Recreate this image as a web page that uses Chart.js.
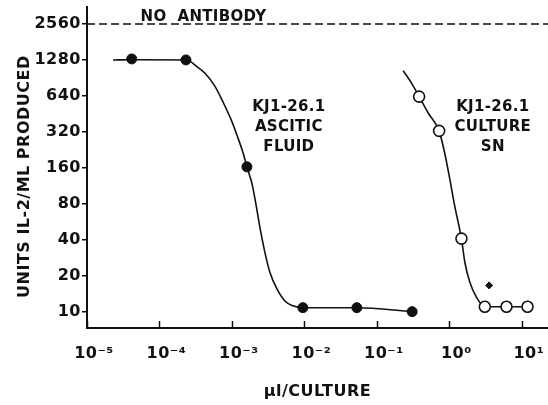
<!DOCTYPE html>
<html>
<head>
<meta charset="utf-8">
<script src="https://cdn.jsdelivr.net/npm/chart.js@4"></script>
<style>
  body{margin:0;background:#fff;}
  #wrap{width:548px;height:405px;position:relative;}
</style>
</head>
<body>
<div id="wrap"><canvas id="ilChart"></canvas></div>
<script>
// tick values and labels
const xTickVals=[1e-5,1e-4,1e-3,1e-2,1e-1,1,10];
const xTickLabels=['10\u207B\u2075','10\u207B\u2074','10\u207B\u00B3','10\u207B\u00B2','10\u207B\u00B9','10\u2070','10\u00B9'];
const yTickVals=[10,20,40,80,160,320,640,1280,2560];

// KJ1-26.1 ascitic fluid (filled dots) and its hand drawn curve
const asciticX=[4.14e-5,2.32e-4,1.61e-3,9.53e-3,0.053,0.307];
const asciticY=[1305,1280,163,10.8,10.8,10.0];
const asciticCurveX=[2.29e-5,4.14e-5,2.32e-4,2.7e-4,3.09e-4,4.25e-4,5.84e-4,7.52e-4,1.0e-3,1.21e-3,1.42e-3,1.61e-3,1.89e-3,2.14e-3,2.43e-3,2.85e-3,3.34e-3,4.18e-3,5.38e-3,6.93e-3,9.53e-3,0.053,0.307];
const asciticCurveY=[1280,1285,1280,1240,1160,990,770,570,390,285,215,163,118,80,51,31.4,21.4,15.5,12.3,11.2,10.8,10.8,10.0];

// KJ1-26.1 culture SN (open circles) and its hand drawn curve
const cultureX=[0.383,0.723,1.47,3.09,6.15,12.0];
const cultureY=[631,326,40.9,11.0,11.0,11.0];
const cultureCurveX=[0.231,0.301,0.383,0.511,0.723,0.867,1.02,1.19,1.47,1.64,1.92,2.37,3.09,6.15,12.0];
const cultureCurveY=[1040,818,631,460,326,210,127,76,40.9,25.8,17.6,13.2,11.0,11.0,11.0];

// stray small point
const strayX=[3.54];
const strayY=[16.6];

// no antibody level
const noAbLevel=2560;
const xMin=1e-5, xMax=23, yMin=7.3, yMax=3550;

const pts=(xs,ys)=>xs.map((x,i)=>({x:x,y:ys[i]}));
const ink='#111';
const FONT='"DejaVu Sans", sans-serif';

// text notes, anchored to data values
const notes=[
  {lines:['NO  ANTIBODY'],x:4.05e-4,y:noAbLevel,dy:-3,base:'alphabetic'},
  {lines:['KJ1-26.1','ASCITIC','FLUID'],x:6.1e-3,y:513,dy:0,base:'middle'},
  {lines:['KJ1-26.1','CULTURE','SN'],x:3.98,y:513,dy:0,base:'middle'}
];

const decor={
  id:'decor',
  beforeDraw(chart){ chart.ctx.letterSpacing='0.5px'; },
  afterDraw(chart){
    const c=chart.ctx, xs=chart.scales.x, ys=chart.scales.y;
    c.save();
    // inward x tick marks
    c.strokeStyle=ink; c.lineWidth=1.5;
    xTickVals.forEach(v=>{
      const px=Math.round(xs.getPixelForValue(v))+0.5;
      c.beginPath(); c.moveTo(px,chart.chartArea.bottom); c.lineTo(px,chart.chartArea.bottom-7); c.stroke();
    });
    // notes
    c.fillStyle=ink; c.font='bold 15px '+FONT; c.textAlign='center';
    c.letterSpacing='0.3px';
    notes.forEach(n=>{
      c.textBaseline=n.base;
      const px=xs.getPixelForValue(n.x), py=ys.getPixelForValue(n.y)+n.dy;
      n.lines.forEach((t,i)=>c.fillText(t,px,py+i*20));
    });
    c.restore();
  }
};

const data={
  datasets:[
    {data:pts(asciticX,asciticY),showLine:false,pointRadius:5,pointBackgroundColor:ink,pointBorderColor:ink,pointBorderWidth:1},
    {data:pts(cultureX,cultureY),showLine:false,pointRadius:5.5,pointBackgroundColor:'#fff',pointBorderColor:ink,pointBorderWidth:1.6},
    {data:pts(strayX,strayY),showLine:false,pointStyle:'rectRot',pointRadius:3.5,pointBackgroundColor:ink,pointBorderColor:ink},
    {data:pts(asciticCurveX,asciticCurveY),borderColor:ink,borderWidth:1.6,pointRadius:0,cubicInterpolationMode:'monotone'},
    {data:pts(cultureCurveX,cultureCurveY),borderColor:ink,borderWidth:1.6,pointRadius:0,cubicInterpolationMode:'monotone'},
    {data:[{x:xMin,y:noAbLevel},{x:xMax,y:noAbLevel}],borderColor:ink,borderWidth:1.4,borderDash:[8,4],pointRadius:0}
  ]
};

const tickFont={family:FONT,size:16,weight:'bold'};
const titleFont={family:FONT,size:16,weight:'bold'};

const config={
  type:'line',
  data:data,
  plugins:[decor],
  options:{
    responsive:true,
    maintainAspectRatio:false,
    animation:false,
    layout:{autoPadding:false,padding:{top:7,right:0,bottom:0,left:0}},
    plugins:{legend:{display:false},tooltip:{enabled:false}},
    scales:{
      x:{
        type:'logarithmic',min:xMin,max:xMax,
        afterBuildTicks:s=>{s.ticks=xTickVals.map(v=>({value:v}));},
        afterFit:s=>{s.height=77;s.paddingLeft=0;s.paddingRight=0;},
        grid:{display:true,drawOnChartArea:false,drawTicks:false},
        border:{display:true,color:ink,width:2},
        ticks:{color:ink,font:tickFont,padding:16,labelOffset:7,maxRotation:0,autoSkip:false,
          callback:(v,i)=>xTickLabels[i]},
        title:{display:true,text:'\u03BCl/CULTURE',color:ink,font:titleFont,padding:{top:0,bottom:4}}
      },
      y:{
        type:'logarithmic',min:yMin,max:yMax,
        afterBuildTicks:s=>{s.ticks=yTickVals.map(v=>({value:v}));},
        afterFit:s=>{s.width=87;s.paddingTop=0;s.paddingBottom=0;},
        grid:{display:true,drawOnChartArea:false,drawTicks:true,tickLength:5,color:ink,lineWidth:1.5},
        border:{display:true,color:ink,width:2},
        ticks:{color:ink,font:tickFont,padding:1,autoSkip:false,callback:v=>String(v)},
        title:{display:true,text:'UNITS IL-2/ML PRODUCED   ',color:ink,font:titleFont,padding:{top:15,bottom:0}}
      }
    }
  }
};

const ilChart=new Chart(document.getElementById('ilChart'),config);
</script>
</body>
</html>
